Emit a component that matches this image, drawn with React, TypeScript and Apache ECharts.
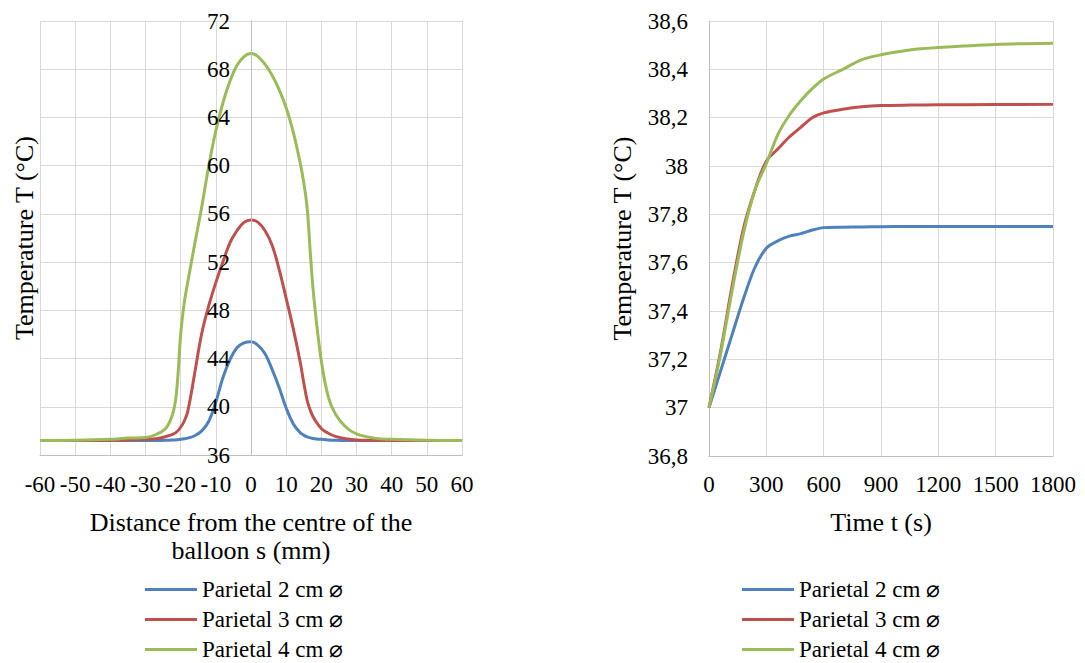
import React, { useEffect, useRef } from "react";
import * as echarts from "echarts";

const FONT = "'Liberation Serif', 'Times New Roman', serif";

const seriesNames = ["Parietal 2 cm ⌀", "Parietal 3 cm ⌀", "Parietal 4 cm ⌀"];
const colors = ["#4f81bd", "#c0504d", "#9bbb59"];

// Left chart: distance (mm) vs temperature
const distance = [-60, -50, -40, -35, -30, -27, -24, -22, -21, -20, -19, -18, -16, -14, -12, -10, -8, -6, -4, -2, 0, 2, 4, 6, 8, 10, 12, 14, 15, 16, 17, 18, 20, 22, 24, 27, 30, 35, 40, 50, 60];
const tempD2 = [37.2, 37.2, 37.2, 37.2, 37.2, 37.2, 37.22, 37.25, 37.27, 37.3, 37.34, 37.4, 37.6, 38.0, 38.8, 40.4, 42.4, 43.9, 44.9, 45.3, 45.4, 45.1, 44.4, 43.1, 41.6, 39.9, 38.6, 37.85, 37.65, 37.5, 37.42, 37.35, 37.3, 37.25, 37.22, 37.2, 37.2, 37.2, 37.2, 37.2, 37.2];
const tempD3 = [37.2, 37.2, 37.22, 37.25, 37.3, 37.35, 37.55, 37.75, 37.95, 38.3, 38.8, 39.6, 42.8, 46.1, 48.4, 50.3, 52.0, 53.6, 54.6, 55.3, 55.5, 55.3, 54.6, 53.4, 51.4, 49.0, 46.5, 43.7, 42.0, 40.5, 39.6, 39.0, 38.2, 37.8, 37.55, 37.35, 37.25, 37.22, 37.2, 37.2, 37.2];
const tempD4 = [37.2, 37.22, 37.3, 37.4, 37.45, 37.7, 38.3, 39.7, 41.8, 46.0, 48.6, 50.3, 53.5, 56.6, 60.0, 62.9, 65.2, 67.0, 68.3, 69.05, 69.3, 69.05, 68.4, 67.5, 66.3, 64.8, 62.8, 60.2, 58.6, 56.4, 52.2, 48.7, 43.8, 40.8, 39.4, 38.3, 37.75, 37.4, 37.3, 37.22, 37.2];

// Right chart: time (s) vs temperature
const time = [0, 60, 120, 180, 240, 300, 360, 420, 480, 540, 600, 700, 800, 900, 1050, 1200, 1500, 1800];
const tempT2 = [37.0, 37.15, 37.3, 37.45, 37.58, 37.66, 37.69, 37.71, 37.72, 37.735, 37.745, 37.747, 37.748, 37.749, 37.75, 37.75, 37.75, 37.75];
const tempT3 = [37.0, 37.23, 37.5, 37.74, 37.9, 38.02, 38.07, 38.12, 38.16, 38.2, 38.22, 38.235, 38.245, 38.25, 38.252, 38.253, 38.254, 38.255];
const tempT4 = [37.0, 37.22, 37.48, 37.72, 37.9, 38.01, 38.13, 38.21, 38.27, 38.32, 38.36, 38.4, 38.44, 38.46, 38.48, 38.49, 38.503, 38.508];

const leftSeries = [tempD2, tempD3, tempD4];
const rightSeries = [tempT2, tempT3, tempT4];

const gridColor = "#d9d9d9";
const axisColor = "#bfbfbf";

function commaFmt(v: number) {
  return String(Number(v.toFixed(1))).replace(".", ",");
}
function plainFmt(v: number) {
  return String(Math.round(v));
}

export default function App() {
  const ref = useRef<HTMLDivElement>(null);

  useEffect(() => {
    if (!ref.current) return;
    const chart = echarts.init(ref.current, null, { renderer: "svg" });
    const tickLabel = { fontSize: 23, color: "#000", fontFamily: FONT };
    const nameStyle = { fontSize: 26, color: "#000", fontFamily: FONT, lineHeight: 28 };

    const series: any[] = [];
    leftSeries.forEach((arr, i) => {
      series.push({
        type: "line",
        name: seriesNames[i],
        xAxisIndex: 0,
        yAxisIndex: 0,
        data: distance.map((d, j) => [d, arr[j]]),
        symbol: "none",
        smooth: 0.4,
        lineStyle: { width: 3, color: colors[i] },
        itemStyle: { color: colors[i] },
      });
    });
    rightSeries.forEach((arr, i) => {
      series.push({
        type: "line",
        name: seriesNames[i],
        xAxisIndex: 2,
        yAxisIndex: 2,
        data: time.map((t, j) => [t, arr[j]]),
        symbol: "none",
        smooth: 0.3,
        lineStyle: { width: 3, color: colors[i] },
        itemStyle: { color: colors[i] },
      });
    });

    const legendBase = {
      orient: "vertical",
      top: 578,
      height: 120,
      padding: 0,
      icon: "rect",
      itemWidth: 52,
      itemHeight: 3,
      itemGap: 7,
      textStyle: { fontSize: 23, color: "#000", fontFamily: FONT, lineHeight: 22 },
      data: seriesNames,
      selectedMode: false,
    };

    const gridBase = { outerBoundsMode: "none", containLabel: false };

    chart.setOption({
      animation: false,
      backgroundColor: "#fff",
      textStyle: { fontFamily: FONT },
      grid: [
        { ...gridBase, left: 40, top: 21, width: 422, height: 434 },
        { ...gridBase, left: 251, top: 21, width: 211, height: 434 },
        { ...gridBase, left: 709, top: 21, width: 344, height: 435 },
      ],
      legend: [
        { ...legendBase, left: 145 },
        { ...legendBase, left: 742 },
      ],
      xAxis: [
        {
          gridIndex: 0,
          type: "value",
          min: -60,
          max: 60,
          interval: 10,
          axisLine: { show: true, onZero: false, lineStyle: { color: axisColor, width: 1 } },
          axisTick: { show: false },
          splitLine: { show: true, lineStyle: { color: gridColor, width: 1 } },
          axisLabel: { ...tickLabel, margin: 18, formatter: plainFmt },
          name: "Distance from the centre of the\nballoon s (mm)",
          nameLocation: "middle",
          nameGap: 53,
          nameTextStyle: nameStyle,
        },
        {
          gridIndex: 1,
          type: "value",
          min: 0,
          max: 60,
          interval: 10,
          axisLine: { show: false, onZero: false },
          axisTick: { show: false },
          axisLabel: { show: false },
          splitLine: { show: false },
        },
        {
          gridIndex: 2,
          type: "value",
          min: 0,
          max: 1800,
          interval: 300,
          axisLine: { show: true, onZero: false, lineStyle: { color: axisColor, width: 1 } },
          axisTick: { show: false },
          splitLine: { show: true, lineStyle: { color: gridColor, width: 1 } },
          axisLabel: { ...tickLabel, margin: 17, formatter: plainFmt },
          name: "Time t (s)",
          nameLocation: "middle",
          nameGap: 52,
          nameTextStyle: nameStyle,
        },
      ],
      yAxis: [
        {
          gridIndex: 0,
          type: "value",
          min: 36,
          max: 72,
          interval: 4,
          axisLine: { show: false, onZero: false },
          axisTick: { show: false },
          axisLabel: { show: false },
          splitLine: { show: true, lineStyle: { color: gridColor, width: 1 } },
          name: "Temperature T (°C)",
          nameLocation: "middle",
          nameGap: 2,
          nameTextStyle: nameStyle,
        },
        {
          gridIndex: 1,
          type: "value",
          min: 36,
          max: 72,
          interval: 4,
          z: 10,
          axisLine: { show: true, onZero: false, lineStyle: { color: axisColor, width: 1 } },
          axisTick: { show: false },
          splitLine: { show: false },
          axisLabel: { ...tickLabel, margin: 21 },
        },
        {
          gridIndex: 2,
          type: "value",
          min: 36.8,
          max: 38.6,
          interval: 0.2,
          axisLine: { show: true, onZero: false, lineStyle: { color: axisColor, width: 1 } },
          axisTick: { show: false },
          splitLine: { show: true, lineStyle: { color: gridColor, width: 1 } },
          axisLabel: { ...tickLabel, margin: 21, formatter: (v: number) => commaFmt(v) },
          name: "Temperature T (°C)",
          nameLocation: "middle",
          nameGap: 73,
          nameTextStyle: nameStyle,
        },
      ],
      series,
    });
    return () => chart.dispose();
  }, []);

  return (
    <div
      ref={ref}
      style={{ position: "fixed", left: 0, top: 0, width: 1085, height: 663, background: "#fff" }}
    />
  );
}
